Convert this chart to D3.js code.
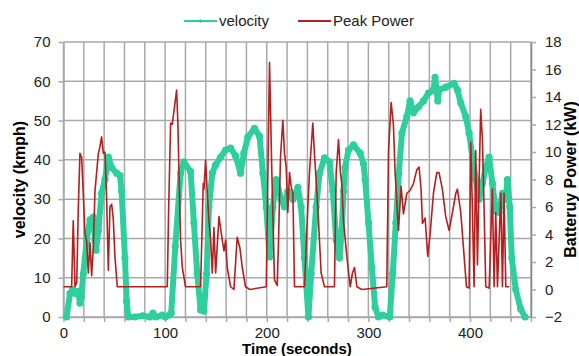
<!DOCTYPE html>
<html>
<head>
<meta charset="utf-8">
<script src="https://cdn.jsdelivr.net/npm/d3@7"></script>
<style>
  body { margin: 0; background: #fff; }
  svg { display: block; font-family: 'Liberation Sans', Arial, sans-serif; }
</style>
</head>
<body>
<div id="chart"></div>
<script>
/* Data: time (s) -> velocity (kmph) */
const velTime = [3, 6.4, 9, 12, 14.6, 16.2, 17.5, 19.5, 22.8, 26.1, 29.3, 31, 32, 34.3, 37.5, 40.8, 44.1, 47.4, 52.3, 55.6, 57.2, 60.5, 62.1, 63.8,
  70, 78, 85, 88, 91, 97, 100, 104, 106, 110, 115.2, 118.5, 125.1, 128.3, 131.6, 134.9, 138.2, 140.8, 143.1, 146.4, 149.7, 154.6, 159.5, 164.4, 169.3, 174.2, 177.5, 181.4,
  187.9, 192.9, 196.2, 199.5, 202.7, 206, 209.3, 214.2, 217.5, 220.7, 225.7, 230.6, 233.8, 237.1, 241, 243.7, 248.6, 251.9, 256.8, 261.7, 265, 268.3, 271.6, 273.8, 275.5, 277,
  280.4, 285.3, 291.9, 295.2, 296.8, 300.1, 303.4, 306.6, 309.9, 314, 321, 324, 327, 330, 333, 337.8, 341, 344.3, 349.2, 354.2, 359.1, 364, 365.6, 368.3,
  369.5, 376.1, 384.3, 387.6, 390.9, 395.8, 399.1, 402.3, 405.6, 408.9, 412.2, 415.5, 418.8, 422, 425.3, 428.6, 431.9, 435.2, 436.8, 439.1, 441.1, 445, 449.9, 454.2];
const velocity = [0, 6, 7, 6, 6.5, 3.5, 5, 11, 19.6, 24.7, 25.4, 19.6, 17, 22, 31.5, 35, 40.7, 38, 36.6, 36, 32, 15, 4, 0,
  0, 0.3, 0, 1, 0, 0.5, 0, 0.5, 1, 18, 36.6, 39.5, 37, 24, 11, 1.8, 1.5, 11, 28, 36.6, 38.7, 40.7, 42.5, 43, 41, 36.6, 41.7, 45.8,
  48, 46, 36.6, 28, 15.3, 28, 35, 30, 28, 32, 30, 33, 28, 15, 0, 11, 28, 36.6, 40.5, 39.5, 32, 19.6, 15, 22, 32, 38,
  42.5, 43.8, 41.7, 39, 35, 24, 12.7, 2.5, 0, 0.5, 0, 11, 24, 36.6, 46.8, 51, 55, 52, 53.5, 55, 57, 57.8, 61, 55,
  57.8, 58.5, 59.5, 57.8, 54.5, 51, 46.8, 40.7, 35, 30, 34, 38, 40.7, 34, 27, 26.6, 31.5, 30, 35, 28, 15, 7, 2, 0];

/* time (s) -> peak battery power (kW) */
const powTime = [0, 8, 9.6, 11.3, 13, 14.6, 16.2, 17.9, 21.1, 22.8, 24.4, 26.1, 27.7, 29.3, 31, 34.3, 35.9, 37.5, 39.2, 40.8, 42.4, 44.1, 45.7, 47.4, 49, 50.6, 52.9,
  80, 102.1, 103.5, 105.4, 107, 108.7, 111.3, 112.6, 113.6, 115.2, 116.9, 120.1, 134.9, 137.5, 138.2, 139.8, 141.5, 143.1, 144.8, 146.4, 148, 149.7, 153, 156.2, 157.9, 159.5, 161.1, 164.4, 167.7, 170.9, 173.6, 175.9, 179.1, 183.4,
  199.5, 201.1, 202.7, 205, 207.6, 210.3, 211.6, 213.5, 215.8, 217.5, 219.1, 220.7, 222.4, 224, 225.7, 227.3, 237.1, 240.4, 242, 245.3, 246.9, 250.2, 253.5, 256.8, 266.6, 268.3, 270.6, 272.5,
  273.8, 275.5, 278.8, 282.1, 284.3, 286.3, 288.7, 293.5, 318.1, 319.8, 322.4, 324.6, 326.3, 329.6, 332.2, 334.5, 337.8, 341, 344.3, 347.6, 349.9, 351.9, 353.2, 355.8, 358.4, 360.7, 364, 367.3,
  369.5, 372.8, 376.1, 379.4, 382.7, 386, 387.6, 390.9, 394.2, 396.5, 399.1, 400.7, 402.3, 404, 405.6, 407.3, 408.9, 410.5, 412.2, 413.8, 415.5, 418.8, 422, 423.7, 425.3, 427, 430.3, 431.9, 433.5, 435.2, 438.5];
const power = [0.2, 0.2, 5, 0.2, 0.5, 6, 9.9, 9.6, 4.1, 3.5, 1.2, 3.4, 1, 3, 7.2, 9.9, 10.4, 11.1, 9.9, 10, 6.7, 1.4, 6, 6.2, 5.1, 2.4, 0.2,
  0.2, 0.2, 6, 12.1, 12, 13, 14.5, 12, 8.5, 3.6, 1.6, 0.2, 0.2, 7.7, 7.3, 9.4, 7, 5, 3.6, 1.2, 4.5, 1.2, 5.3, 3.6, 2.8, 3.6, 1.6, 0.2, 0, 3.8, 3, 1.6, 0.2, 0,
  0.2, 8.5, 16.5, 8.5, 0.7, 0.3, 3.6, 9.6, 12.3, 9.9, 8.9, 5.6, 8.5, 7.5, 7, 0.2, 0.2, 6, 8.5, 12.1, 9.9, 6, 1.2, 0.2, 0.2, 8.5, 10.9, 8.5,
  7.7, 5, 2.4, 0.2, 1.2, 1.6, 0.2, 0, 0.2, 10.1, 13.6, 12, 8.5, 4.3, 7.5, 5.5, 7, 7.2, 7.7, 8.7, 8.9, 7.2, 4.8, 5.2, 2.4, 4, 7, 8.5,
  8.5, 7.3, 5.3, 4.3, 5.6, 7, 7.3, 5.6, 2.4, 0.2, 0.1, 10.7, 6, 0.2, 10.1, 1.8, 7.7, 13.1, 10.9, 6, 0.2, 0.1, 7.3, 0.2, 5.6, 0.2, 7, 0.2, 7, 0.2, 0.2];

const xTicks = [0, 100, 200, 300, 400];
const seriesNames = ['velocity', 'Peak Power'];

const width = 579;
const height = 356;
const plotLeft = 63.5, plotRight = 531, plotTop = 42, plotBottom = 317;
const velColor = '#2ecf9c';
const powColor = '#b41f1f';
const gridColor = '#a9a9a9';

/* Scales */
const xScale = d3.scaleLinear().domain([0, 460]).range([plotLeft, plotRight]);
const yScale = d3.scaleLinear().domain([0, 70]).range([plotBottom, plotTop]);
const y2Scale = d3.scaleLinear().domain([-2, 18]).range([plotBottom, plotTop]);

const svg = d3.select('#chart').append('svg')
  .attr('width', width)
  .attr('height', height);

/* Grid */
const grid = svg.append('g').attr('class', 'grid');
grid.selectAll('.vgrid')
  .data(d3.range(0, 461, 20)).enter()
  .append('line')
  .attr('x1', d => xScale(d)).attr('x2', d => xScale(d))
  .attr('y1', plotTop).attr('y2', plotBottom)
  .attr('stroke', gridColor).attr('stroke-width', 1.5);
grid.selectAll('.hgrid')
  .data(d3.range(0, 71, 10)).enter()
  .append('line')
  .attr('x1', plotLeft).attr('x2', plotRight)
  .attr('y1', d => yScale(d)).attr('y2', d => yScale(d))
  .attr('stroke', gridColor).attr('stroke-width', 1.5);

/* Axes */
function styleAxis(g) {
  g.selectAll('.tick line').attr('stroke', gridColor).attr('stroke-width', 1.5);
  g.select('.domain').attr('stroke', gridColor).attr('stroke-width', 1.5);
  g.selectAll('.tick text')
    .attr('fill', '#222')
    .style('font-size', '15px')
    .style('font-family', "'Liberation Sans', Arial, sans-serif");
}

const xAxis = d3.axisBottom(xScale)
  .tickValues(d3.range(0, 461, 20))
  .tickSizeInner(5).tickSizeOuter(0).tickPadding(5)
  .tickFormat(d => xTicks.includes(d) ? d : '');
svg.append('g')
  .attr('transform', `translate(0,${plotBottom})`)
  .call(xAxis)
  .call(styleAxis);

const yAxis = d3.axisLeft(yScale)
  .tickValues(d3.range(0, 71, 10))
  .tickSizeInner(5).tickSizeOuter(0).tickPadding(8);
svg.append('g')
  .attr('transform', `translate(${plotLeft},0)`)
  .call(yAxis)
  .call(styleAxis);

const y2Axis = d3.axisRight(y2Scale)
  .tickValues(d3.range(-2, 19, 2))
  .tickSizeInner(5).tickSizeOuter(0).tickPadding(9);
svg.append('g')
  .attr('transform', `translate(${plotRight},0)`)
  .call(y2Axis)
  .call(styleAxis)
  .call(g => g.select('.domain').attr('stroke', '#888'));

/* Velocity series */
const velData = velTime.map((t, i) => ({ t, v: velocity[i] }));
const velLine = d3.line()
  .x(d => xScale(d.t))
  .y(d => yScale(d.v));

svg.append('path')
  .datum(velData)
  .attr('d', velLine)
  .attr('fill', 'none')
  .attr('stroke', velColor)
  .attr('stroke-width', 6)
  .attr('stroke-linejoin', 'round')
  .attr('stroke-linecap', 'round');

svg.append('g')
  .selectAll('circle')
  .data(velData).enter()
  .append('circle')
  .attr('cx', d => xScale(d.t))
  .attr('cy', d => yScale(d.v))
  .attr('r', 3.6)
  .attr('fill', velColor);

/* Power series, drawn over velocity */
const powData = powTime.map((t, i) => ({ t, p: power[i] }));
const powLine = d3.line()
  .x(d => xScale(d.t))
  .y(d => y2Scale(d.p));

svg.append('path')
  .datum(powData)
  .attr('d', powLine)
  .attr('fill', 'none')
  .attr('stroke', powColor)
  .attr('stroke-width', 1.6)
  .attr('stroke-linejoin', 'round');

/* Legend */
const legend = svg.append('g').attr('class', 'legend');
const legendItems = [
  { name: seriesNames[0], color: velColor, x: 184, w: 1.8, marker: true },
  { name: seriesNames[1], color: powColor, x: 298, w: 1.8, marker: false }
];
legendItems.forEach(item => {
  legend.append('line')
    .attr('x1', item.x).attr('x2', item.x + 33)
    .attr('y1', 21).attr('y2', 21)
    .attr('stroke', item.color)
    .attr('stroke-width', item.w);
  if (item.marker) {
    legend.append('circle')
      .attr('cx', item.x + 16.5).attr('cy', 21).attr('r', 1.8)
      .attr('fill', item.color);
  }
  legend.append('text')
    .attr('x', item.x + 35).attr('y', 26)
    .style('font-size', '15px')
    .attr('fill', '#222')
    .text(item.name);
});

/* Axis titles */
const midY = (plotTop + plotBottom) / 2;
svg.append('text')
  .attr('transform', `translate(25,${midY}) rotate(-90)`)
  .attr('text-anchor', 'middle')
  .style('font-size', '16px')
  .style('font-weight', 'bold')
  .text('velocity (kmph)');

svg.append('text')
  .attr('transform', `translate(576,${midY}) rotate(-90)`)
  .attr('text-anchor', 'middle')
  .style('font-size', '16px')
  .style('font-weight', 'bold')
  .text('Batteruy Power (kW)');

svg.append('text')
  .attr('x', 297).attr('y', 353.5)
  .attr('text-anchor', 'middle')
  .style('font-size', '15px')
  .style('font-weight', 'bold')
  .text('Time (seconds)');
</script>
</body>
</html>
